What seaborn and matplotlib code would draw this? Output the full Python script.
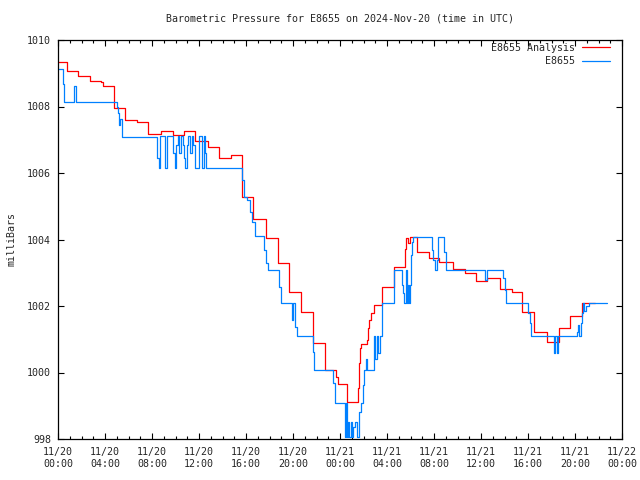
import matplotlib
matplotlib.use("Agg")
import matplotlib.pyplot as plt
import pandas as pd
import seaborn as sns

# ---- data (hours since 2024-11-20 00:00 UTC, step values in millibars) ----
analysis_hours = [0.0, 0.74, 1.73, 2.7, 3.7, 3.86, 4.77, 5.67, 6.7, 7.7, 8.77, 9.76,
                  10.7, 11.7, 12.77, 13.7, 14.7, 15.7, 16.6, 17.7, 18.7, 19.7, 20.7,
                  21.7, 22.7, 23.66, 23.85, 24.6, 25.5, 25.6, 25.7, 25.8, 26.3, 26.4,
                  26.5, 26.6, 26.9, 27.6, 28.6, 29.5, 29.6, 29.8, 29.95, 30.55, 31.6,
                  32.4, 33.6, 34.6, 35.6, 36.5, 37.6, 38.6, 39.5, 40.5, 41.6, 42.6,
                  43.6, 44.6, 45.7]
analysis_mb = [1009.33, 1009.07, 1008.91, 1008.77, 1008.73, 1008.62, 1007.96, 1007.59,
               1007.52, 1007.17, 1007.26, 1007.13, 1007.26, 1006.96, 1006.78, 1006.44,
               1006.53, 1005.27, 1004.61, 1004.04, 1003.30, 1002.41, 1001.81, 1000.88,
               1000.08, 999.85, 999.65, 999.10, 999.52, 1000.28, 1000.73, 1000.86,
               1000.98, 1001.33, 1001.58, 1001.80, 1002.03, 1002.58, 1003.16, 1003.70,
               1004.04, 1003.90, 1004.07, 1003.63, 1003.45, 1003.31, 1003.10, 1002.98,
               1002.75, 1002.83, 1002.51, 1002.43, 1001.81, 1001.23, 1000.91, 1001.35,
               1001.69, 1002.10, 1002.10]

obs_hours = [0.0, 0.45, 0.53, 1.36, 1.52, 5.0, 5.1, 5.2, 5.3, 5.45,
             8.45, 8.58, 8.68, 9.11, 9.25, 9.82, 9.92, 10.04, 10.19, 10.3, 10.44,
             10.61, 10.72, 10.81, 10.95, 11.09, 11.23, 11.38, 11.52, 11.66, 12.0,
             12.23, 12.43, 12.5, 12.6,
             15.7, 15.85, 16.05, 16.3, 16.55, 16.75, 17.56, 17.7, 17.85, 18.85, 18.95,
             19.9, 20.0, 20.2, 20.35, 21.7, 21.8, 23.4, 23.55,
             24.43, 24.51, 24.62, 24.71, 24.8, 24.91, 25.0, 25.13, 25.3, 25.47, 25.64,
             25.75, 25.98, 26.07, 26.2, 26.3, 26.89, 27.0, 27.12, 27.25, 27.4, 27.55,
             28.6, 29.25, 29.39, 29.47, 29.62, 29.73, 29.8, 29.85, 29.92, 30.01, 30.1,
             30.19, 31.8, 31.89, 32.09, 32.23, 32.31, 32.85, 33.02, 36.34, 36.54,
             37.9, 38.04, 38.13, 40.03, 40.17, 40.26, 42.21, 42.3, 42.44, 42.52,
             44.2, 44.26, 44.35, 44.48, 44.57, 44.65, 44.79, 44.94, 45.16, 46.7]
obs_mb = [1009.12, 1008.67, 1008.14, 1008.62, 1008.14, 1007.99, 1007.80, 1007.44, 1007.62, 1007.09,
          1006.44, 1006.14, 1007.11, 1006.14, 1007.11, 1006.59, 1006.14, 1006.84, 1007.11, 1006.59, 1007.11,
          1006.84, 1006.44, 1006.14, 1006.84, 1007.11, 1006.59, 1007.11, 1006.84, 1006.14, 1007.11,
          1006.14, 1007.11, 1006.59, 1006.14,
          1005.79, 1005.29, 1005.19, 1004.84, 1004.54, 1004.11, 1003.68, 1003.28, 1003.08, 1002.58, 1002.08,
          1001.58, 1002.08, 1001.38, 1001.10, 1000.63, 1000.08, 999.67, 999.07,
          998.07, 999.07, 998.07, 998.52, 998.07, 998.52, 998.07, 998.37, 998.52, 998.07, 998.82,
          999.07, 999.62, 1000.08, 1000.40, 1000.08, 1001.10, 1000.40, 1001.10, 1000.60, 1001.10, 1002.08,
          1003.08, 1002.63, 1002.38, 1002.08, 1003.08, 1002.08, 1002.63, 1002.08, 1002.63, 1003.53, 1003.93,
          1004.08, 1003.68, 1003.38, 1003.08, 1003.38, 1004.08, 1003.63, 1003.08, 1002.78, 1003.08,
          1002.83, 1002.48, 1002.08, 1001.78, 1001.48, 1001.10, 1000.58, 1001.10, 1000.58, 1001.10,
          1001.23, 1001.43, 1001.10, 1001.48, 1001.78, 1002.08, 1001.85, 1002.00, 1002.08, 1002.08]

series_names = ["E8655 Analysis", "E8655"]
series_colors = ["#ff0000", "#0080ff"]

x_tick_hours = [0, 4, 8, 12, 16, 20, 24, 28, 32, 36, 40, 44, 48]
x_tick_labels = ["11/20\n00:00", "11/20\n04:00", "11/20\n08:00", "11/20\n12:00",
                 "11/20\n16:00", "11/20\n20:00", "11/21\n00:00", "11/21\n04:00",
                 "11/21\n08:00", "11/21\n12:00", "11/21\n16:00", "11/21\n20:00",
                 "11/22\n00:00"]
y_ticks = [998, 1000, 1002, 1004, 1006, 1008, 1010]

title = "Barometric Pressure for E8655 on 2024-Nov-20 (time in UTC)"
y_label = "milliBars"

# ---- build table ----
df = pd.concat([
    pd.DataFrame({"hour": analysis_hours, "mb": analysis_mb, "series": series_names[0]}),
    pd.DataFrame({"hour": obs_hours, "mb": obs_mb, "series": series_names[1]}),
], ignore_index=True)

sns.set_theme(style="white")
plt.rcParams["font.family"] = ["DejaVu Sans Mono"]
plt.rcParams["font.size"] = 7.2

fs = 7.2
fig = plt.figure(figsize=(6.4, 4.8), dpi=100)
ax = fig.add_axes([58 / 640, 41 / 480, 564 / 640, 399 / 480])

sns.lineplot(data=df, x="hour", y="mb", hue="series", hue_order=series_names,
             palette=dict(zip(series_names, series_colors)), drawstyle="steps-post",
             estimator=None, sort=False, linewidth=0.9, legend=False, ax=ax)

ax.set_xlim(0, 48)
ax.set_ylim(998, 1010)
ax.set_xticks(x_tick_hours)
ax.set_xticklabels(x_tick_labels)
ax.set_xticks(range(0, 49), minor=True)
ax.set_yticks(y_ticks)
ax.set_yticklabels([str(v) for v in y_ticks])

ax.tick_params(axis="both", which="major", direction="in", length=4.5, width=0.8,
               top=True, right=True, bottom=True, left=True, labelsize=fs, color="black")
ax.tick_params(axis="x", which="minor", direction="in", length=2.3, width=0.8,
               top=True, bottom=True, color="black")
ax.tick_params(axis="x", which="major", pad=6)
ax.tick_params(axis="y", which="major", pad=5)
for sp in ax.spines.values():
    sp.set_visible(True)
    sp.set_color("black")
    sp.set_linewidth(0.9)

ax.set_xlabel("")
ax.set_ylabel(y_label, fontsize=fs)
ax.yaxis.set_label_coords(-41 / 564, 0.5)
ax.set_title(title, fontsize=fs, pad=13)

handles = ax.get_lines()[:2]
leg = ax.legend(handles, series_names, loc="upper right", frameon=False,
                markerfirst=False, bbox_to_anchor=(1 - 12 / 564, 1 - 3 / 399),
                borderpad=0, borderaxespad=0, handlelength=2.8, handletextpad=0.7,
                labelspacing=0.35, fontsize=fs)

fig.savefig("out.png", dpi=100)
